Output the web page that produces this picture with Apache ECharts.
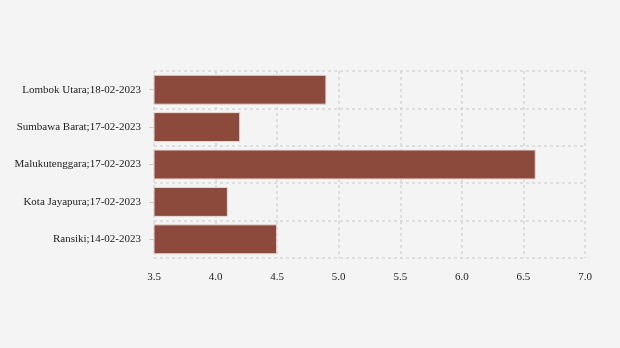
<!DOCTYPE html>
<html><head><meta charset="utf-8">
<script src="https://cdn.jsdelivr.net/npm/echarts@6/dist/echarts.min.js"></script>
<style>html,body{margin:0;padding:0;background:#f4f4f4}#c{width:620px;height:348px}</style>
</head><body><div id="c"></div>
<script>
const categories = ["Lombok Utara;18-02-2023","Sumbawa Barat;17-02-2023","Malukutenggara;17-02-2023","Kota Jayapura;17-02-2023","Ransiki;14-02-2023"];
const values = [4.9, 4.2, 6.6, 4.1, 4.5];
const xTicks = [3.5, 4.0, 4.5, 5.0, 5.5, 6.0, 6.5, 7.0];

const chart = echarts.init(document.getElementById('c'), null, {renderer:'canvas'});
chart.setOption({
  backgroundColor: '#f4f4f4',
  animation: false,
  grid: {left: 154, right: 35, top: 71, bottom: 90},
  xAxis: {
    type: 'value', min: xTicks[0], max: xTicks[xTicks.length-1], interval: 0.5,
    axisLine: {show: false}, axisTick: {show: false},
    axisLabel: {color: '#222', fontFamily: 'Liberation Serif', fontSize: 11, margin: 14,
      formatter: v => v.toFixed(1)},
    splitLine: {show: true, lineStyle: {color: '#d6d6d6', type: [3,3], width: 1.5}}
  },
  yAxis: {
    type: 'category', data: categories, inverse: true,
    axisLine: {show: false},
    axisTick: {show: true, alignWithLabel: true, length: 5, lineStyle: {color: '#ccc'}},
    axisLabel: {color: '#222', fontFamily: 'Liberation Serif', fontSize: 11, margin: 13, padding: [3,0,0,0]},
    splitLine: {show: true, lineStyle: {color: '#d6d6d6', type: [3,3], width: 1.5}}
  },
  series: [{
    type: 'bar', data: values, barWidth: '80%',
    itemStyle: {color: '#8b4a3c', borderColor: '#e8d8d4', borderWidth: 1}
  }]
});
</script></body></html>
